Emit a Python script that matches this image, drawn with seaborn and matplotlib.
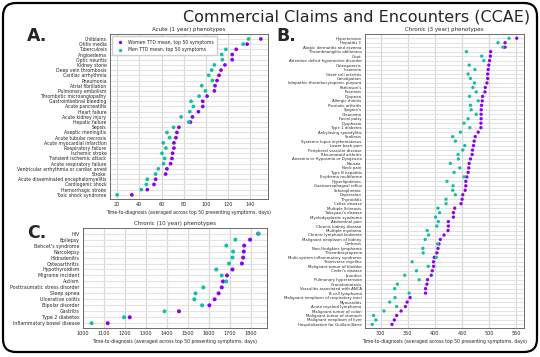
"""
CCAE time-to-diagnosis dot plots (women vs men), three phenotype panels
"""

import pandas as pd
import matplotlib.pyplot as plt
import seaborn as sns
from matplotlib.patches import FancyBboxPatch

# === Data ===
acute_labels = [
    "Chilblains", "Otitis media", "Tuberculosis", "Angioedema", "Optic neuritis",
    "Kidney stone", "Deep vein thrombosis", "Cardiac arrhythmia", "Pneumonia",
    "Atrial fibrillation", "Pulmonary embolism", "Thrombotic microangiopathy",
    "Gastrointestinal bleeding", "Acute pancreatitis", "Heart failure",
    "Acute kidney injury", "Hepatic failure", "Sepsis", "Aseptic meningitis",
    "Acute tubular necrosis", "Acute myocardial infarction", "Respiratory failure",
    "Ischemic stroke", "Transient ischemic attack", "Acute respiratory failure",
    "Ventricular arrhythmia or cardiac arrest", "Stroke",
    "Acute disseminated encephalomyelitis", "Cardiogenic shock",
    "Hemorrhagic stroke", "Toxic shock syndrome",
]
acute_women = [149.6, 137.3, 127.4, 123.8, 123.8, 117.2, 113.7, 111.9, 110.1, 108.3,
               107.7, 101.1, 97.2, 97.2, 93.3, 87.9, 86.1, 75.7, 73.9, 73.0,
               71.2, 71.2, 70.0, 69.4, 68.2, 64.9, 63.7, 54.7, 53.2, 47.2, 33.2]
acute_men = [138.5, 133.7, 118.1, 114.3, 114.9, 107.7, 105.3, 102.6, 105.9, 96.3,
             99.6, 93.9, 86.7, 88.8, 85.5, 77.7, 84.6, 70.9, 64.9, 67.3,
             61.6, 64.0, 60.4, 62.8, 61.9, 57.1, 54.7, 47.2, 46.3, 41.8, 20.0]

chronic3_labels = [
    "Hypertension", "Hepatitis C", "Atopic dermatitis and eczema",
    "Thromboangiitis obliterans", "Gout", "Attention deficit hyperactive disorder",
    "Osteoporosis", "Insomnia", "Giant cell arteritis", "Constipation",
    "Idiopathic thrombocytopenic purpura", "Parkinson's", "Psoriasis", "Dyspnea",
    "Allergic rhinitis", "Psoriatic arthritis", "Sjogren's", "Glaucoma",
    "Facial palsy", "Dysphasia", "Type 1 diabetes", "Ankylosing spondylitis",
    "Scoliosis", "Systemic lupus erythematosus", "Lower back pain",
    "Peripheral vascular disease", "Rheumatoid arthritis",
    "Anosmia or Hyposmia or Dysgeusia", "Nausea", "Neck pain", "Type B hepatitis",
    "Erythema multiforme", "Hyperlipidemia", "Gastroesophageal reflux",
    "Schizophrenia", "Depression", "Thyroiditis", "Celiac disease",
    "Multiple Sclerosis", "Takayasu's disease", "Myelodysplastic syndrome",
    "Abdominal pain", "Chronic kidney disease", "Multiple myeloma",
    "Chronic lymphoid leukemia", "Malignant neoplasm of kidney", "Cirrhosis",
    "Non-Hodgkins lymphoma", "Thrombocytopenia",
    "Multi-system inflammatory syndrome", "Transverse myelitis",
    "Malignant tumor of bladder", "Crohn's disease", "Jaundice",
    "Pulmonary hypertension", "Granulomatosis", "Vasculitis associated with ANCA",
    "B-cell lymphoma", "Malignant neoplasm of respiratory tract", "Myocarditis",
    "Acute myeloid lymphoma", "Malignant tumor of colon",
    "Malignant tumor of stomach", "Malignant neoplasm of liver",
    "Hospitalization for Guillain-Barre",
]
chronic3_women = [550.6, 529.0, 529.0, 502.5, 502.0, 500.6, 499.0, 498.0, 497.0, 497.0,
                  495.7, 492.6, 492.0, 487.7, 487.0, 485.8, 485.2, 485.0, 485.0, 484.6,
                  484.6, 479.6, 474.1, 472.2, 471.0, 469.1, 468.5, 465.4, 463.0, 462.3,
                  461.1, 458.6, 456.8, 456.8, 455.6, 451.2, 450.0, 448.1, 436.4, 434.0,
                  434.0, 424.7, 424.7, 424.1, 416.7, 409.9, 407.4, 405.6, 403.7, 398.8,
                  397.5, 397.5, 395.1, 393.2, 386.4, 385.2, 382.7, 382.7, 354.3, 348.8,
                  345.7, 337.7, 329.6, 325.3, 321.0]
chronic3_men = [536.4, 516.0, 525.0, 458.0, 486.0, 490.0, 463.0, 473.5, 461.0, 465.4,
                472.8, 469.8, 476.0, 463.6, 479.6, 465.4, 466.7, 476.0, 461.0, 453.5,
                464.2, 446.9, 432.7, 437.7, 454.9, 451.2, 442.6, 443.2, 428.4, 445.7,
                435.2, 453.7, 422.2, 433.3, 432.7, 437.7, 420.4, 420.4, 405.6, 408.5,
                401.2, 406.2, 403.5, 385.8, 388.3, 382.1, 404.9, 377.8, 378.4, 402.5,
                358.0, 387.7, 366.0, 344.4, 371.0, 330.9, 325.9, 352.5, 326.5, 316.7,
                329.6, 306.2, 287.0, 291.4, 284.6]

chronic10_labels = [
    "HIV", "Epilepsy", "Behcet's syndrome", "Narcolepsy", "Hidradenitis",
    "Osteoarthritis", "Hypothyroidism", "Migraine incident", "Autism",
    "Posttraumatic stress disorder", "Sleep apnea", "Ulcerative colitis",
    "Bipolar disorder", "Gastritis", "Type 2 diabetes", "Inflammatory bowel disease",
]
chronic10_women = [1836, 1797, 1769, 1767, 1764, 1758, 1713, 1687, 1668, 1662,
                   1647, 1628, 1603, 1458, 1223, 1118]
chronic10_men = [1838, 1727, 1684, 1716, 1713, 1697, 1636, 1662, 1683, 1574,
                 1537, 1531, 1568, 1389, 1196, 1041]

WOMEN = "Women TTD mean, top 50 symptoms"
MEN = "Men TTD mean, top 50 symptoms"
palette = {WOMEN: "#8a00f2", MEN: "#12bfa2"}
XLABEL = "Time-to-diagnosis (averaged across top 50 presenting symptoms, days)"

W, H = 540, 357


def to_long(labels, women, men):
    df = pd.DataFrame({"phenotype": labels, WOMEN: women, MEN: men})
    return df.melt(id_vars="phenotype", var_name="group", value_name="ttd")


def px_axes(fig, left, top, right, bottom):
    return fig.add_axes([left / W, 1 - bottom / H, (right - left) / W, (bottom - top) / H])


def dot_panel(ax, labels, women, men, title, ylab_size, dot_size, legend=False):
    df = to_long(labels, women, men)
    sns.stripplot(data=df, x="ttd", y="phenotype", hue="group",
                  hue_order=[WOMEN, MEN], order=labels, palette=palette,
                  jitter=False, size=dot_size, linewidth=0, ax=ax, legend=legend)
    n = len(labels)
    ax.set_ylim(n - 0.2, -0.95)
    ax.margins(x=0.05)
    ax.grid(True, axis="y", color="#e3e3e3", linewidth=0.8)
    ax.grid(True, axis="x", color="#d8d8d8", linewidth=0.9)
    ax.set_axisbelow(True)
    for s in ax.spines.values():
        s.set_color("#555555")
        s.set_linewidth(0.6)
    ax.set_title(title, fontsize=4.0, pad=2)
    ax.set_ylabel("")
    ax.set_xlabel(XLABEL, fontsize=3.3, labelpad=1.5)
    ax.tick_params(axis="y", labelsize=ylab_size, length=1.5, width=0.4, pad=1)
    ax.tick_params(axis="x", labelsize=3.5, length=1.5, width=0.4, pad=1)
    if legend:
        ax.legend(loc="upper left", fontsize=3.3, markerscale=0.9, frameon=True,
                  borderpad=0.7, handletextpad=0.8, labelspacing=0.6,
                  edgecolor="#cccccc", framealpha=1)


sns.set_theme(style="whitegrid")
plt.rcParams["font.family"] = ["DejaVu Sans"]

fig = plt.figure(figsize=(W / 100, H / 100), dpi=100)
fig.patch.set_facecolor("white")

# === Panels ===
ax_a = px_axes(fig, 110, 34, 268, 199)
dot_panel(ax_a, acute_labels, acute_women, acute_men,
          "Acute (1 year) phenotypes", 3.3, 2.7, legend=True)
ax_a.set_xticks([20, 40, 60, 80, 100, 120, 140])

ax_b = px_axes(fig, 365, 34, 524, 328)
dot_panel(ax_b, chronic3_labels, chronic3_women, chronic3_men,
          "Chronic (3 year) phenotypes", 2.8, 2.4)
ax_b.set_xticks([300, 350, 400, 450, 500, 550])

ax_c = px_axes(fig, 83, 228, 267, 328)
dot_panel(ax_c, chronic10_labels, chronic10_women, chronic10_men,
          "Chronic (10 year) phenotypes", 3.4, 2.9)
ax_c.set_xticks(range(1000, 1900, 100))

# === Title, panel letters, frame ===
fig.text(357 / W, 1 - 17 / H, "Commercial Claims and Encounters (CCAE)",
         ha="center", va="center", fontsize=11.5)
for letter, x, y in [("A.", 27, 36), ("B.", 276, 36), ("C.", 27, 233)]:
    fig.text(x / W, 1 - y / H, letter, ha="left", va="center",
             fontsize=12.5, fontweight="bold")

frame = FancyBboxPatch((0.03, 0.05), 5.34, 3.49,
                       boxstyle="round,pad=0,rounding_size=0.13",
                       transform=fig.dpi_scale_trans, fill=False,
                       edgecolor="black", linewidth=1.6)
fig.add_artist(frame)

fig.savefig("out.png", dpi=100)
plt.close(fig)
